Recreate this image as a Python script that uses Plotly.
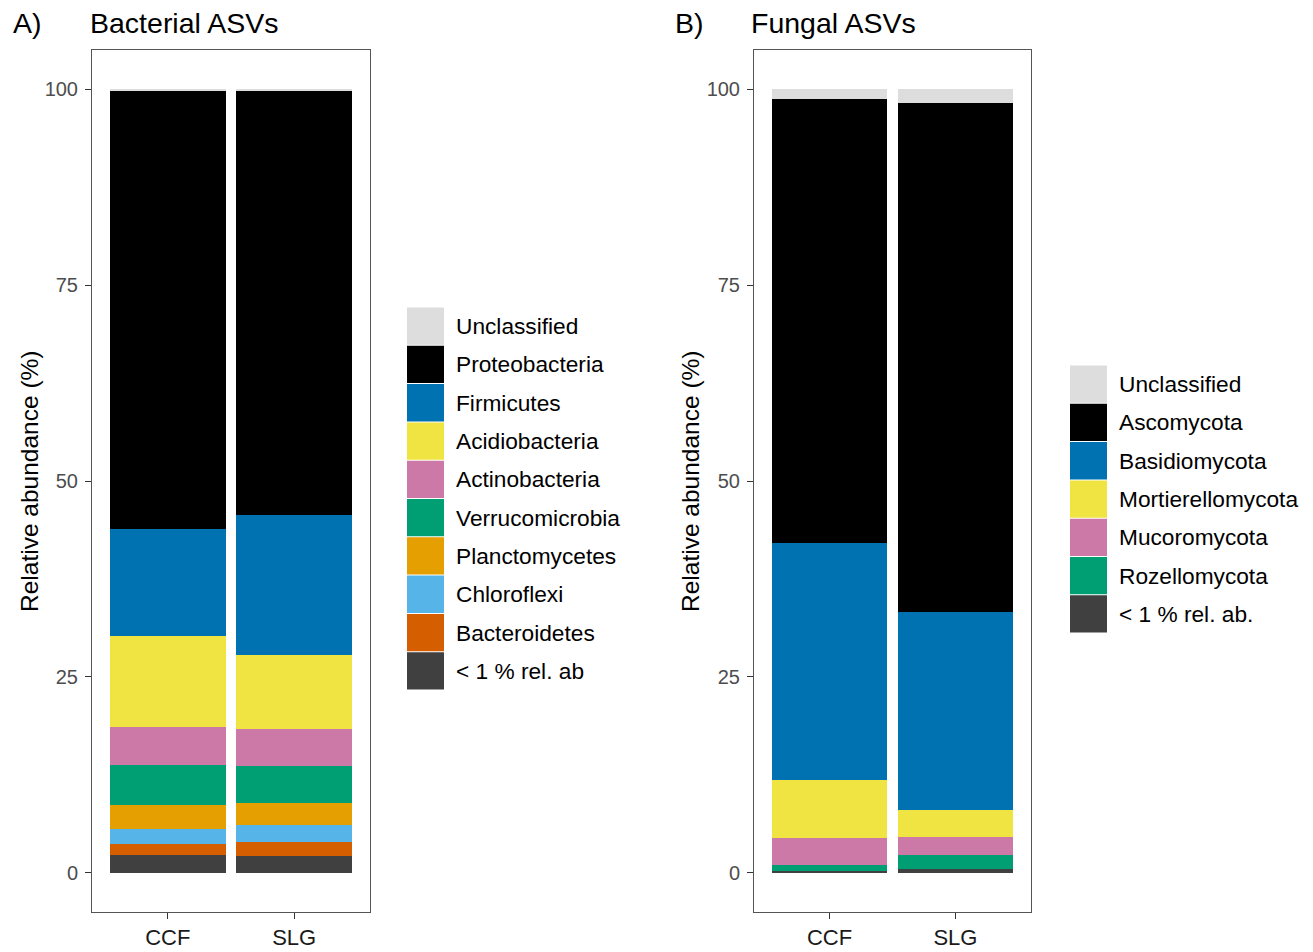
import plotly.graph_objects as go

W, H = 1313, 952

sites = ["CCF", "SLG"]

# Bacterial phyla (legend order, top to bottom), relative abundance (%)
bac_phyla = ["Unclassified", "Proteobacteria", "Firmicutes", "Acidiobacteria",
             "Actinobacteria", "Verrucomicrobia", "Planctomycetes", "Chloroflexi",
             "Bacteroidetes", "< 1 % rel. ab"]
bac_ccf = [0.15, 55.95, 13.70, 11.60, 4.90, 5.00, 3.06, 2.00, 1.37, 2.27]
bac_slg = [0.15, 54.25, 17.80, 9.50, 4.70, 4.70, 2.80, 2.12, 1.84, 2.14]
bac_colors = ["#DDDDDD", "#000000", "#0072B2", "#F0E442", "#CC79A7", "#009E73",
              "#E69F00", "#56B4E9", "#D55E00", "#404040"]

# Fungal phyla (legend order, top to bottom), relative abundance (%)
fun_phyla = ["Unclassified", "Ascomycota", "Basidiomycota", "Mortierellomycota",
             "Mucoromycota", "Rozellomycota", "< 1 % rel. ab."]
fun_ccf = [1.20, 56.70, 30.20, 7.50, 3.40, 0.75, 0.25]
fun_slg = [1.80, 64.90, 25.30, 3.43, 2.34, 1.78, 0.45]
fun_colors = ["#DDDDDD", "#000000", "#0072B2", "#F0E442", "#CC79A7", "#009E73", "#404040"]

y_ticks = [0, 25, 50, 75, 100]

FONT = "Liberation Sans, Arial, sans-serif"

fig = go.Figure()

# stacked bars: draw from bottom (last legend entry) to top
for names, ccf, slg, cols, xa, ya in [
    (bac_phyla, bac_ccf, bac_slg, bac_colors, "x", "y"),
    (fun_phyla, fun_ccf, fun_slg, fun_colors, "x2", "y2"),
]:
    for i in reversed(range(len(names))):
        fig.add_trace(go.Bar(
            x=sites, y=[ccf[i], slg[i]], name=names[i],
            marker=dict(color=cols[i], line=dict(width=0)),
            xaxis=xa, yaxis=ya, showlegend=False,
            hovertemplate="%{x}: %{y:.2f}%<extra>" + names[i] + "</extra>",
        ))

def px(x):
    return x / W

def py(y):
    return 1 - y / H

axis_common = dict(
    showline=True, mirror=True, linecolor="#555555", linewidth=1,
    showgrid=False, zeroline=False, ticks="outside", ticklen=6,
    tickcolor="#333333", tickwidth=1,
)

fig.update_layout(
    width=W, height=H,
    margin=dict(l=0, r=0, t=0, b=0),
    paper_bgcolor="white", plot_bgcolor="white",
    barmode="stack", bargap=0.08,
    font=dict(family=FONT, color="#000000"),
    xaxis=dict(domain=[px(92), px(370)], range=[-0.6, 1.6], type="category",
               tickfont=dict(size=22, color="#1a1a1a"), anchor="y", **axis_common),
    yaxis=dict(domain=[py(912), py(50)], range=[-5, 105], tickvals=y_ticks,
               ticklabelstandoff=3,
               tickfont=dict(size=20, color="#4D4D4D"), anchor="x", **axis_common),
    xaxis2=dict(domain=[px(754), px(1031)], range=[-0.6, 1.6], type="category",
                tickfont=dict(size=22, color="#1a1a1a"), anchor="y2", **axis_common),
    yaxis2=dict(domain=[py(912), py(50)], range=[-5, 105], tickvals=y_ticks,
                ticklabelstandoff=3,
                tickfont=dict(size=20, color="#4D4D4D"), anchor="x2", **axis_common),
)

annotations = []
shapes = []

# panel labels and titles
for lab, lx, title, tx in [("A)", 11, "Bacterial ASVs", 88), ("B)", 673, "Fungal ASVs", 749)]:
    annotations.append(dict(text=lab, x=px(lx), y=py(23), xref="paper", yref="paper",
                            xanchor="left", yanchor="middle", showarrow=False,
                            font=dict(size=28.5, color="#000000")))
    annotations.append(dict(text=title, x=px(tx), y=py(23), xref="paper", yref="paper",
                            xanchor="left", yanchor="middle", showarrow=False,
                            font=dict(size=28.5, color="#000000")))

# y axis titles
for ax in [29, 690]:
    annotations.append(dict(text="Relative abundance (%)", x=px(ax), y=py(481),
                            xref="paper", yref="paper", xanchor="center", yanchor="middle",
                            textangle=-90, showarrow=False,
                            font=dict(size=24.5, color="#000000")))

# legends (ggplot-style large keys)
KEY = 38.3
for names, cols, kx, ky in [(bac_phyla, bac_colors, 407, 307), (fun_phyla, fun_colors, 1070, 365)]:
    for i, (n, c) in enumerate(zip(names, cols)):
        y0 = ky + i * KEY
        shapes.append(dict(type="rect", xref="paper", yref="paper",
                           x0=px(kx), x1=px(kx + 37), y0=py(y0 + KEY - 0.5), y1=py(y0 + 0.5),
                           fillcolor=c, line=dict(width=0), layer="above"))
        annotations.append(dict(text=n, x=px(kx + 47), y=py(y0 + KEY / 2),
                                xref="paper", yref="paper", xanchor="left", yanchor="middle",
                                showarrow=False, font=dict(size=22.7, color="#000000")))

fig.update_layout(annotations=annotations, shapes=shapes)

fig.write_html("out.html",
               config={"displayModeBar": False},
               post_script="document.body.style.margin='0';document.body.style.overflow='hidden';")
